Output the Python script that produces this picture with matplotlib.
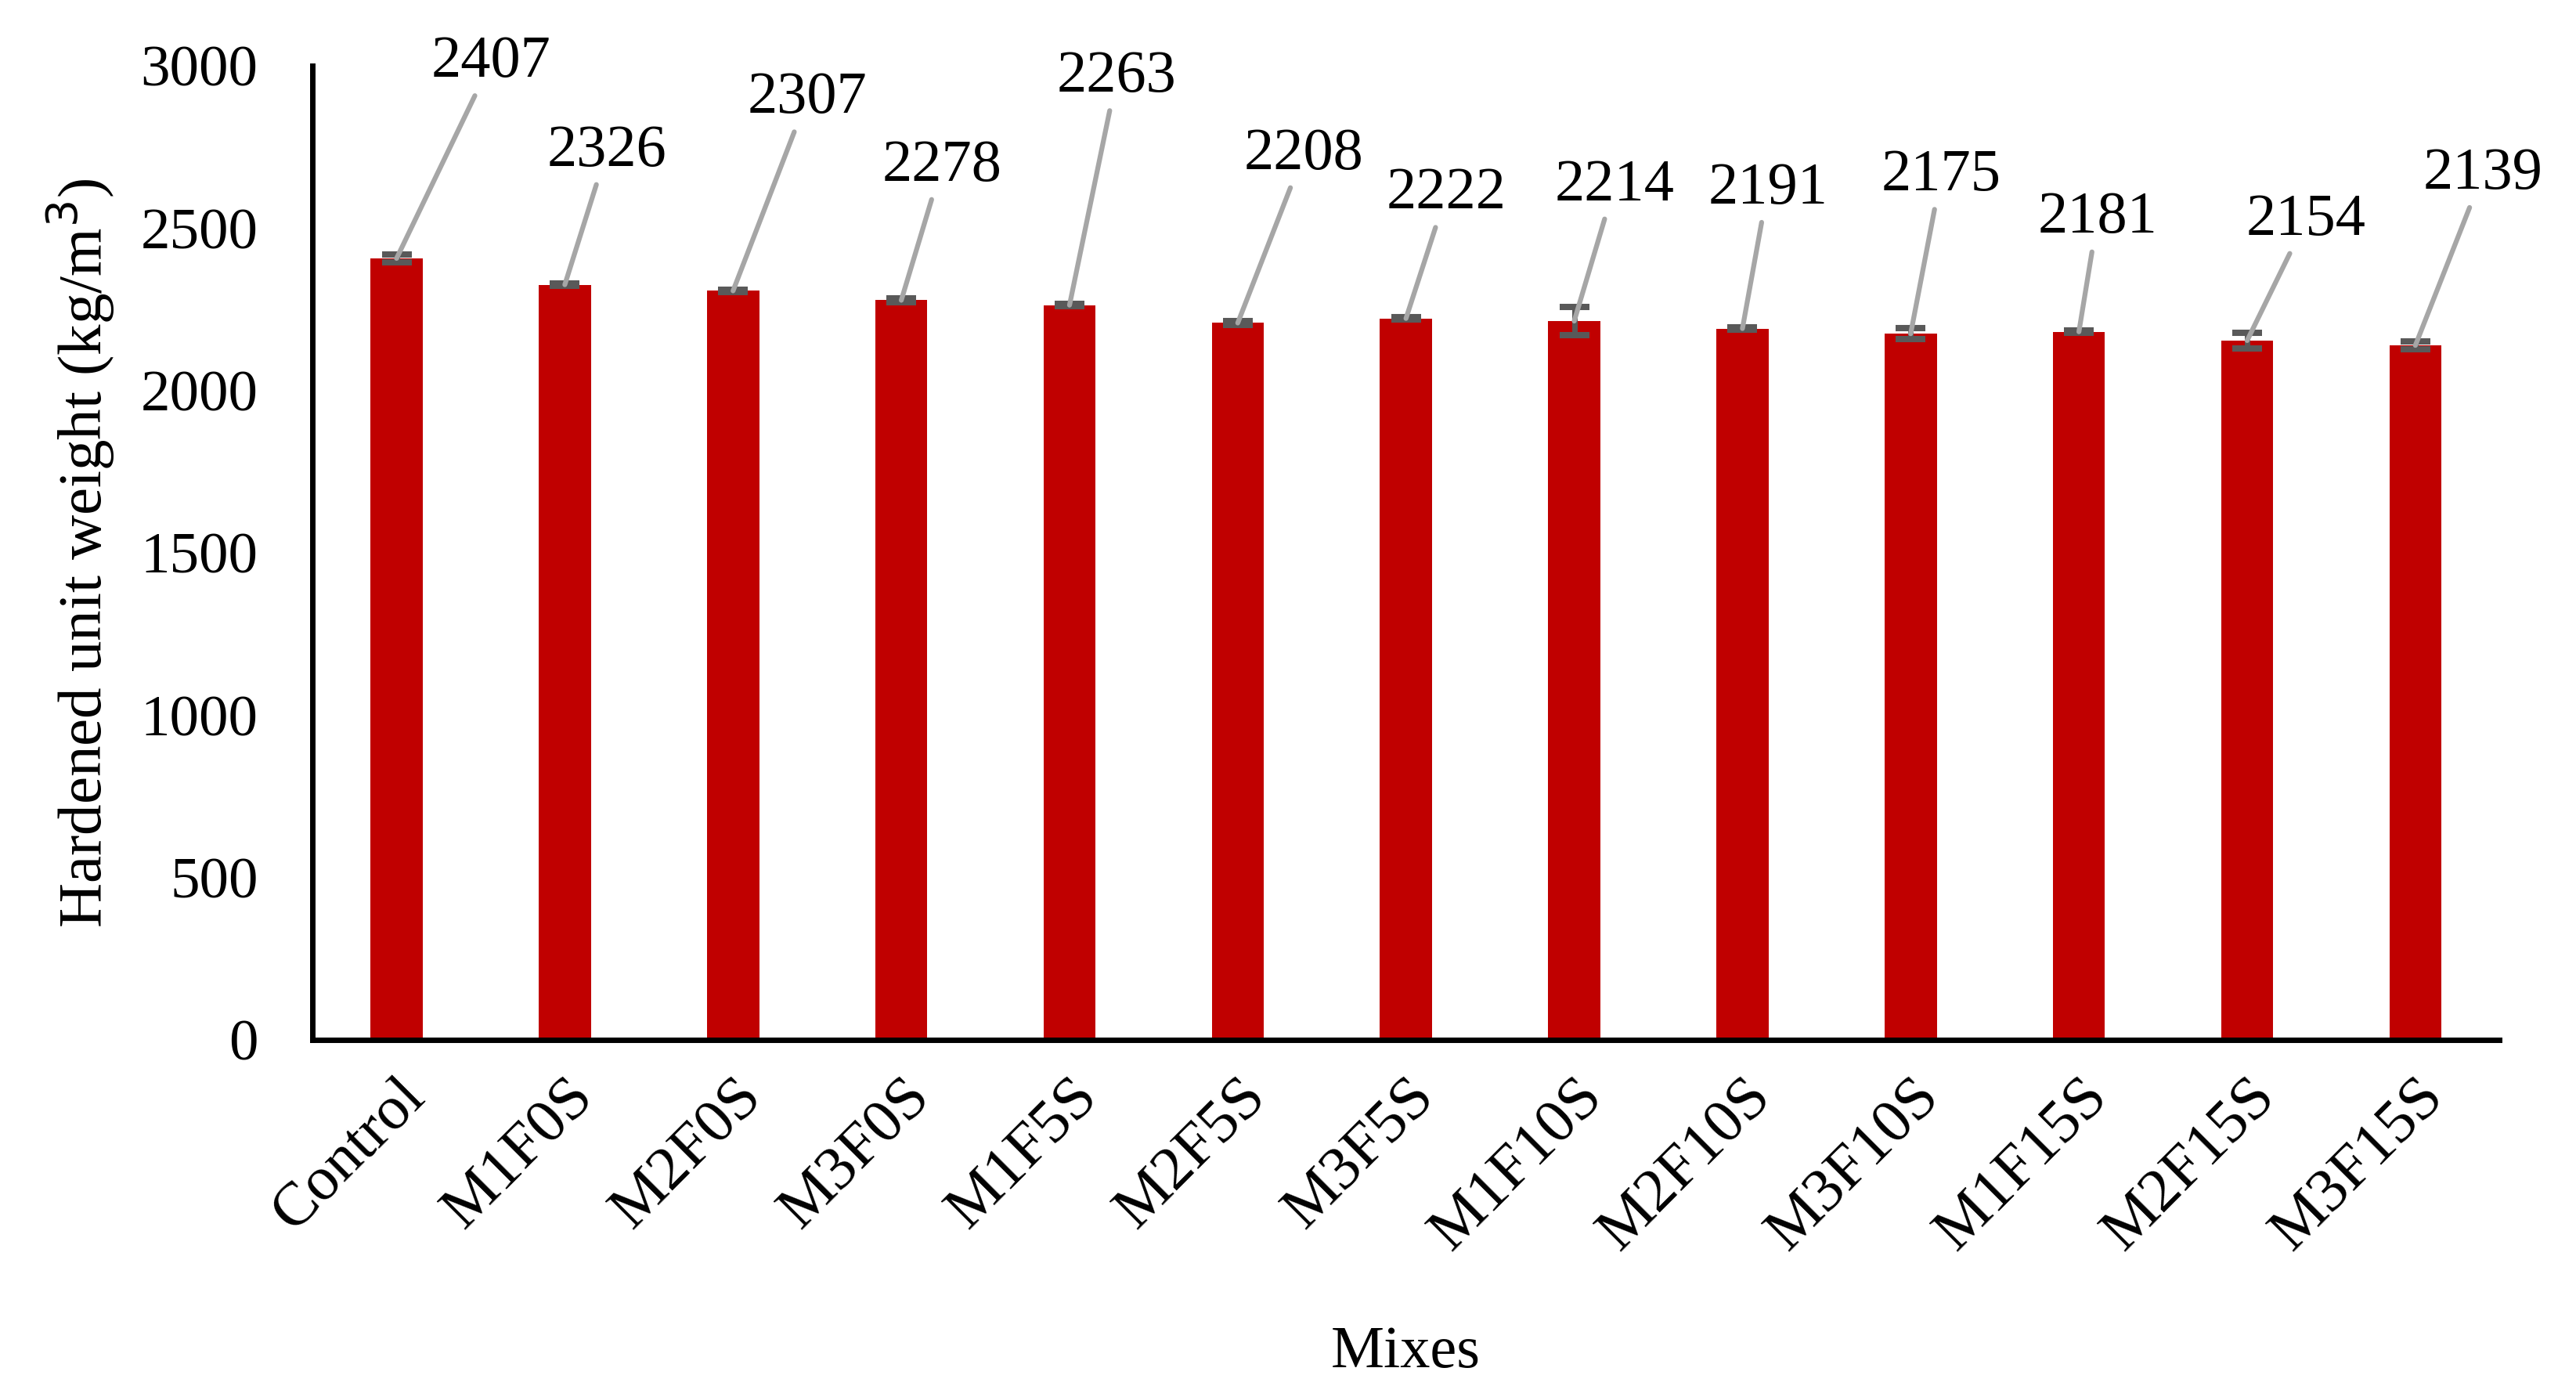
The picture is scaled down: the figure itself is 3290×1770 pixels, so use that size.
import matplotlib
matplotlib.use("Agg")
import matplotlib.pyplot as plt
import numpy as np

plt.rcParams['font.family'] = ['Liberation Serif', 'DejaVu Serif']

mixes = ["Control", "M1F0S", "M2F0S", "M3F0S", "M1F5S", "M2F5S", "M3F5S",
         "M1F10S", "M2F10S", "M3F10S", "M1F15S", "M2F15S", "M3F15S"]
weight = [2407, 2326, 2307, 2278, 2263, 2208, 2222, 2214, 2191, 2175, 2181, 2154, 2139]
err = [12, 4, 4, 6, 4, 6, 3, 43, 4, 17, 4, 24, 12]
# label positions (x in category units, y in kg/m3)
lab_x = [0.56, 1.25, 2.44, 3.24, 4.28, 5.39, 6.24, 7.24, 8.15, 9.18, 10.11, 11.35, 12.40]
lab_y = [3010, 2737, 2899, 2691, 2965, 2727, 2605, 2631, 2621, 2661, 2530, 2524, 2666]

fig = plt.figure(figsize=(32.9, 17.7), dpi=100)
ax = fig.add_axes([0.1213, 0.2497, 0.849, 0.7028])

x = np.arange(len(mixes))
ax.bar(x, weight, width=0.31, color="#C00000", zorder=2)
ax.errorbar(x, weight, yerr=err, fmt="none", ecolor="#595959",
            elinewidth=5, capsize=13.7, capthick=5.8, zorder=3)

for i in range(len(mixes)):
    ax.annotate(str(weight[i]), xy=(x[i], weight[i]), xytext=(lab_x[i], lab_y[i]),
                ha="center", va="center", fontsize=55, annotation_clip=False,
                arrowprops=dict(arrowstyle="-", color="#A6A6A6", lw=4.5,
                                shrinkA=4, shrinkB=0), zorder=4)

ax.set_xlim(-0.5, len(mixes) - 0.5)
ax.set_ylim(0, 3000)
ax.set_yticks(np.arange(0, 3001, 500))
ax.set_xticks(x)
ax.set_xticklabels(mixes, rotation=45, ha="right", rotation_mode="anchor")
ax.tick_params(axis="y", length=0, labelsize=54, pad=50)
ax.tick_params(axis="x", length=0, labelsize=57, pad=26)

for s in ["top", "right"]:
    ax.spines[s].set_visible(False)
for s in ["left", "bottom"]:
    ax.spines[s].set_linewidth(5)
    ax.spines[s].set_color("black")

ax.set_ylabel("Hardened unit weight (kg/m$^3$)", fontsize=57, labelpad=22)
ax.set_xlabel("Mixes", fontsize=55)
ax.xaxis.set_label_coords(0.5, -0.293)

fig.savefig("out.png", dpi=100)
